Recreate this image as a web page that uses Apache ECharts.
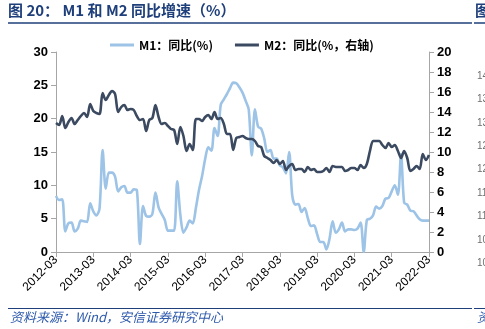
<!DOCTYPE html>
<html>
<head>
<meta charset="utf-8">
<script src="https://cdn.jsdelivr.net/npm/echarts@6/dist/echarts.min.js"></script>
<style>
  html, body { margin: 0; padding: 0; background: #fff; }
  #chart { width: 485px; height: 329px; }
</style>
</head>
<body>
<div id="chart"></div>
<script>
// Monthly categories, 2012-03 .. 2022-03
const months = [];
for (let y = 2012; y <= 2022; y++) {
  for (let m = 1; m <= 12; m++) {
    if ((y === 2012 && m < 3) || (y === 2022 && m > 3)) continue;
    months.push(y + '-' + String(m).padStart(2, '0'));
  }
}

// M1 year-on-year growth (%), left axis
const m1Values = [
  8.4, 7.8, 7.9,
  3.1, 4.3, 4.4, 3.1, 3.5, 4.7, 4.6, 4.5, 7.3, 6.1, 5.5, 6.5,
  15.3, 9.5, 11.9, 11.9, 11.3, 9.1, 9.7, 9.9, 8.9, 8.9, 9.4, 9.3,
  1.2, 6.9, 5.4, 5.3, 5.7, 8.9, 6.7, 5.7, 4.8, 3.2, 3.2, 3.2,
  10.6, 5.6, 2.9, 3.7, 4.7, 4.3, 6.6, 9.3, 11.4, 14.0, 15.7, 15.2,
  18.6, 17.4, 22.1, 22.9, 23.7, 24.6, 25.4, 25.3, 24.7, 23.9, 22.7, 21.4,
  14.5, 21.4, 18.8, 18.5, 17.0, 15.0, 15.3, 14.0, 14.0, 13.0, 12.7, 11.8,
  15.0, 8.5, 7.1, 7.2, 6.0, 6.6, 5.1, 3.9, 4.0, 2.7, 1.5, 1.5,
  0.4, 2.0, 4.6, 2.9, 3.4, 4.4, 3.1, 3.4, 3.4, 3.3, 3.5, 4.4,
  0.0, 4.8, 5.0, 5.5, 6.8, 6.5, 6.9, 8.0, 8.1, 9.1, 10.0, 8.6,
  14.7, 7.4, 7.1, 6.2, 6.1, 5.5, 4.9,
  4.7, 4.7, 4.7
];

// M2 year-on-year growth (%), right axis
const m2Values = [
  12.9, 12.7, 13.6,
  12.4, 13.0, 13.4, 12.8, 13.2, 13.6, 13.9, 13.5, 14.8, 14.1, 13.9, 13.8,
  15.9, 15.2, 15.7, 16.1, 15.8, 14.0, 14.5, 14.7, 14.2, 14.3, 14.2, 13.6,
  13.2, 13.3, 12.1, 13.2, 13.4, 14.7, 13.5, 12.8, 12.9, 12.6, 12.3, 12.2,
  10.8, 12.5, 11.6, 10.1, 10.8, 10.2, 13.3, 13.3, 13.1, 13.5, 13.7, 13.3,
  14.0, 13.3, 13.4, 12.8, 11.8, 11.8, 10.2, 11.4, 11.5, 11.6, 11.4, 11.3,
  11.3, 11.1, 10.6, 10.5, 9.6, 9.4, 9.2, 8.9, 9.2, 8.8, 9.1, 8.2,
  8.6, 8.8, 8.2, 8.3, 8.3, 8.0, 8.5, 8.2, 8.3, 8.0, 8.0, 8.1,
  8.4, 8.0, 8.6, 8.5, 8.5, 8.5, 8.1, 8.2, 8.4, 8.4, 8.2, 8.7,
  8.4, 8.8, 10.1, 11.1, 11.1, 11.1, 10.7, 10.4, 10.9, 10.5, 10.7, 10.1,
  9.4, 10.1, 9.4, 8.1, 8.3, 8.6, 8.3,
  9.8, 9.2, 9.7
];

const leftTicks = [0, 30, 5];   // min, max, step
const rightTicks = [0, 20, 2];  // min, max, step
const sideNumbers = ['14', '13', '13', '12', '12', '11', '11', '10', '10'];

const chart = echarts.init(document.getElementById('chart'), null, { renderer: 'canvas' });

const navy = '#1F3F7A';
const axisGray = '#A6A6A6';
const numFont = '"Liberation Sans", Arial, sans-serif';
const cjkFont = '"Noto Sans CJK SC", "Liberation Sans", sans-serif';

const sideText = sideNumbers.map((t, i) => ({
  type: 'text',
  left: 477,
  top: 71 + i * 23.4,
  style: { text: t, fill: '#6F6F6F', font: '10px ' + numFont }
}));

chart.setOption({
  animation: false,
  backgroundColor: '#fff',
  grid: { left: 56, right: 56, top: 52, bottom: 77 },
  legend: {
    top: 34,
    left: 105,
    itemWidth: 24,
    itemHeight: 3,
    itemGap: 22,
    icon: 'rect',
    textStyle: { color: '#000', fontSize: 12, fontWeight: 'bold', fontFamily: cjkFont },
    data: ['M1：同比(%)', 'M2：同比(%，右轴)']
  },
  xAxis: {
    type: 'category',
    data: months,
    boundaryGap: false,
    axisLine: { lineStyle: { color: axisGray, width: 1 } },
    axisTick: { interval: 11, length: 5, lineStyle: { color: axisGray } },
    axisLabel: {
      interval: 11,
      rotate: 45,
      color: '#000',
      fontSize: 12,
      fontFamily: numFont,
      margin: 6
    },
    splitLine: { show: false }
  },
  yAxis: [
    {
      type: 'value',
      min: leftTicks[0], max: leftTicks[1], interval: leftTicks[2],
      axisLine: { show: true, lineStyle: { color: axisGray } },
      axisTick: { show: true, length: 5, lineStyle: { color: axisGray } },
      axisLabel: { color: '#000', fontSize: 13, fontWeight: 'bold', fontFamily: numFont, margin: 8 },
      splitLine: { show: false }
    },
    {
      type: 'value',
      min: rightTicks[0], max: rightTicks[1], interval: rightTicks[2],
      position: 'right',
      axisLine: { show: true, lineStyle: { color: axisGray } },
      axisTick: { show: true, length: 5, lineStyle: { color: axisGray } },
      axisLabel: { color: '#000', fontSize: 13, fontWeight: 'bold', fontFamily: numFont, margin: 8 },
      splitLine: { show: false }
    }
  ],
  series: [
    {
      name: 'M1：同比(%)',
      type: 'line',
      yAxisIndex: 0,
      data: m1Values,
      showSymbol: false,
      smooth: 0.3,
      lineStyle: { color: '#9DC3E6', width: 2.6 },
      itemStyle: { color: '#9DC3E6' },
      z: 2
    },
    {
      name: 'M2：同比(%，右轴)',
      type: 'line',
      yAxisIndex: 1,
      data: m2Values,
      showSymbol: false,
      smooth: 0.3,
      lineStyle: { color: '#3B4A61', width: 2.6 },
      itemStyle: { color: '#3B4A61' },
      z: 3
    }
  ],
  graphic: [
    {
      type: 'text', left: 8, top: 3,
      style: { text: '图 20： M1 和 M2 同比增速（%）', fill: navy, font: 'bold 15px ' + cjkFont }
    },
    {
      type: 'text', left: 475, top: 3,
      style: { text: '图', fill: navy, font: 'bold 15px ' + cjkFont }
    },
    {
      type: 'line', shape: { x1: 8, y1: 23, x2: 472, y2: 23 },
      style: { stroke: navy, lineWidth: 1.5 }
    },
    {
      type: 'line', shape: { x1: 474, y1: 23, x2: 485, y2: 23 },
      style: { stroke: navy, lineWidth: 1.5 }
    },
    {
      type: 'line', shape: { x1: 8, y1: 308.5, x2: 472, y2: 308.5 },
      style: { stroke: navy, lineWidth: 1 }
    },
    {
      type: 'line', shape: { x1: 474, y1: 308.5, x2: 485, y2: 308.5 },
      style: { stroke: navy, lineWidth: 1 }
    },
    {
      type: 'text', left: 10, top: 311,
      style: { text: '资料来源：Wind，安信证券研究中心', fill: '#2E5AAC', font: 'italic 13px ' + cjkFont }
    },
    {
      type: 'text', left: 477, top: 311,
      style: { text: '资', fill: '#2E5AAC', font: 'italic 13px ' + cjkFont }
    }
  ].concat(sideText)
});
</script>
</body>
</html>
